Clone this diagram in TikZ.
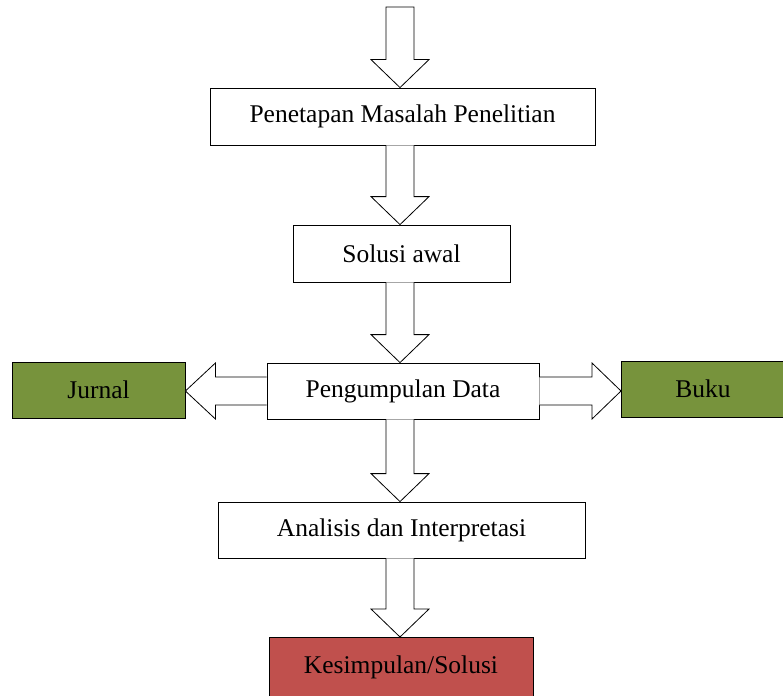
\documentclass[tikz,border=0pt]{standalone}
\usepackage{fontspec}
\setmainfont{Liberation Serif}
\usetikzlibrary{calc}
\definecolor{olivegr}{HTML}{77933C}
\definecolor{redbox}{HTML}{C0504D}
\tikzset{
  box/.style={draw=black, line width=0.8pt, fill=white, inner sep=0pt, font=\fontsize{25.5}{30}\selectfont},
  blk/.style={draw=black, line width=0.8pt, fill=white, line join=miter},
}
\newcommand{\downarrowblk}[2]{%
  \draw[blk] ($(#1)+(-14,0)$) -- ($(#2)+(-14,-28)$) -- ($(#2)+(-29,-28)$) -- (#2)
    -- ($(#2)+(29,-28)$) -- ($(#2)+(14,-28)$) -- ($(#1)+(14,0)$);}
\begin{document}
\begin{tikzpicture}[x=1pt,y=-1pt]
\useasboundingbox (0,0) rectangle (783,695);
% nodes
\node[box, minimum width=385, minimum height=57] (pen) at (402.5,116.5) {Penetapan Masalah Penelitian};
\node[box, minimum width=217, minimum height=57] (sol) at (401.5,253.5) {Solusi awal};
\node[box, minimum width=272, minimum height=56] (peng) at (403,391) {Pengumpulan Data};
\node[box, fill=olivegr, minimum width=173, minimum height=56] (jur) at (98.5,390) {Jurnal};
\node[box, fill=olivegr, minimum width=163, minimum height=56, anchor=west] (buku) at (621,389) {Buku};
\node[box, minimum width=367, minimum height=56] (ana) at (401.5,530) {Analisis dan Interpretasi};
\node[box, fill=redbox, minimum width=264, minimum height=60, anchor=north] (kes) at (401,637) {Kesimpulan/Solusi};
% start coordinate
\coordinate (top) at (400,7);
% top block arrow (closed)
\draw[blk] ($(top)+(-14,0)$) -- ($(top|-pen.north)+(-14,-28)$) -- ($(top|-pen.north)+(-29,-28)$) -- (top|-pen.north)
    -- ($(top|-pen.north)+(29,-28)$) -- ($(top|-pen.north)+(14,-28)$) -- ($(top)+(14,0)$) -- cycle;
% vertical block arrows
\downarrowblk{top|-pen.south}{top|-sol.north}
\downarrowblk{top|-sol.south}{top|-peng.north}
\downarrowblk{top|-peng.south}{top|-ana.north}
\downarrowblk{top|-ana.south}{top|-kes.north}
% left arrow to Jurnal
\coordinate (jtip) at (jur.east|-peng.west);
\draw[blk] ($(peng.west)+(0,-14)$) -- ($(jtip)+(30,-14)$) -- ($(jtip)+(30,-28)$) -- (jtip)
  -- ($(jtip)+(30,28)$) -- ($(jtip)+(30,14)$) -- ($(peng.west)+(0,14)$);
% right arrow to Buku
\coordinate (btip) at (buku.west|-peng.east);
\draw[blk] ($(peng.east)+(0,-14)$) -- ($(btip)+(-29,-14)$) -- ($(btip)+(-29,-28)$) -- (btip)
  -- ($(btip)+(-29,28)$) -- ($(btip)+(-29,14)$) -- ($(peng.east)+(0,14)$);
\end{tikzpicture}
\end{document}
